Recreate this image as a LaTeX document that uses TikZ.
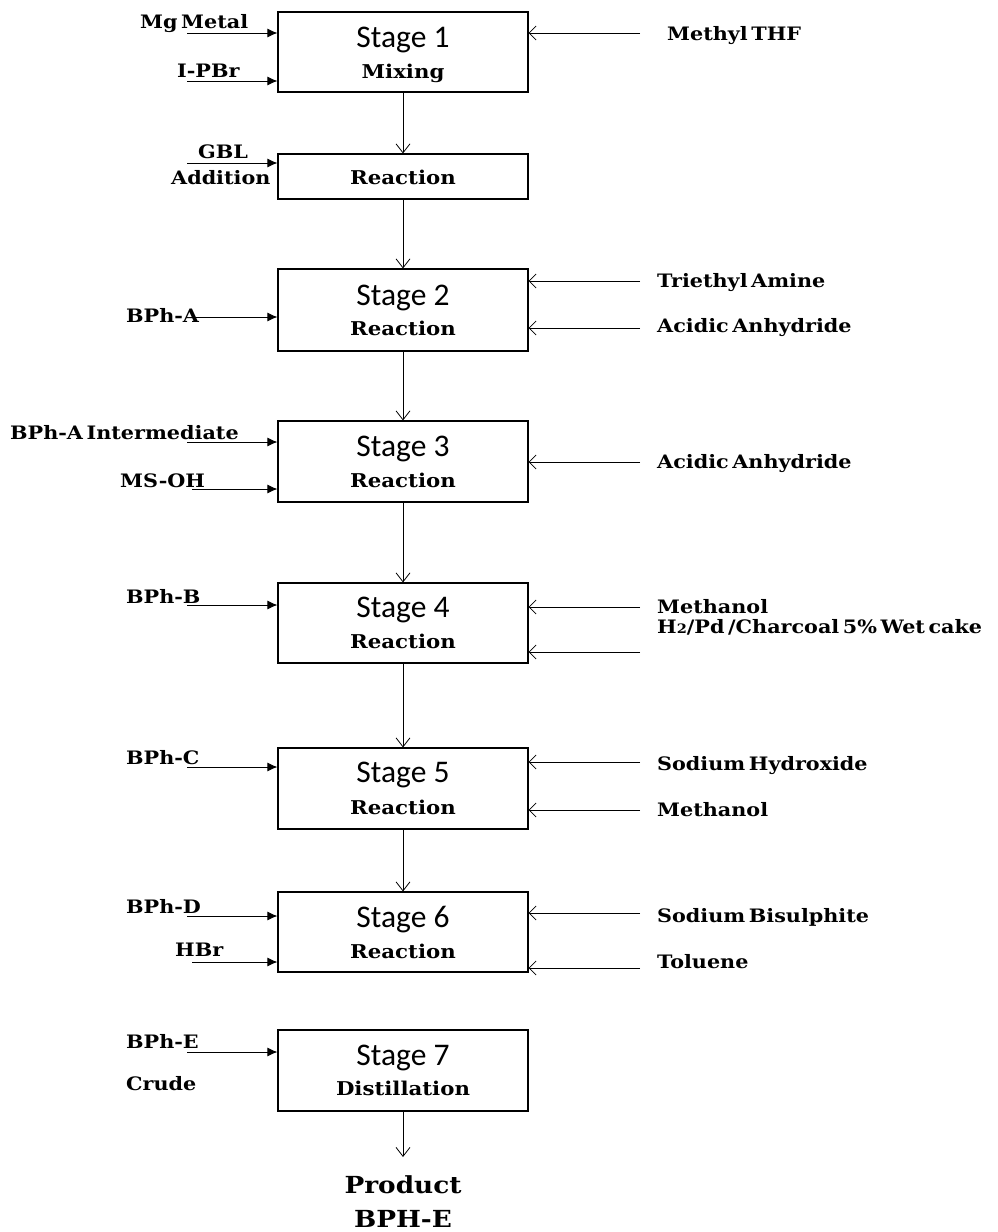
\documentclass[tikz,border=0pt]{standalone}
\usepackage{fontspec}
\setmainfont{DejaVu Serif}[FakeStretch=1.12, WordSpace=0.5]
\newfontfamily\stagefont{Carlito}
\usetikzlibrary{arrows.meta}
\begin{document}
\begin{tikzpicture}[x=1pt,y=-1pt,
  box/.style={draw, line width=1.1pt, minimum width=250pt, inner sep=0pt},
  lbl/.style={font=\bfseries\fontsize{18.5}{18.5}\selectfont, inner sep=0pt, anchor=base west},
  stg/.style={font=\stagefont\fontsize{31.5}{31.5}\selectfont, inner sep=0pt, anchor=base},
  sub/.style={font=\bfseries\fontsize{19}{19}\selectfont, inner sep=0pt, anchor=base},
  prodlbl/.style={font=\bfseries\fontsize{23.5}{23.5}\selectfont, inner sep=0pt, anchor=base},
  feed/.style={-{Latex[length=10pt,width=9pt]}, line width=1pt},
  side/.style={-{Straight Barb[length=7pt,width=14pt]}, line width=0.8pt},
  flow/.style={-{Straight Barb[length=9pt,width=14pt]}, line width=0.8pt}]
\useasboundingbox (0,0) rectangle (997,1232);

% boxes
\node[box, minimum height=80pt] (s1) at (403,52) {};
\node[stg] (s1a) at (403,47) {Stage 1};
\node[sub] (s1b) at (403,78) {Mixing};

\node[box, minimum height=45pt] (r) at (403,176.5) {};
\node[sub] (rb) at (403,184) {Reaction};

\node[box, minimum height=82pt] (s2) at (403,310) {};
\node[stg] (s2a) at (403,305) {Stage 2};
\node[sub] (s2b) at (403,335) {Reaction};

\node[box, minimum height=81pt] (s3) at (403,461.5) {};
\node[stg] (s3a) at (403,456) {Stage 3};
\node[sub] (s3b) at (403,487) {Reaction};

\node[box, minimum height=80pt] (s4) at (403,623) {};
\node[stg] (s4a) at (403,617) {Stage 4};
\node[sub] (s4b) at (403,648) {Reaction};

\node[box, minimum height=81pt] (s5) at (403,788.5) {};
\node[stg] (s5a) at (403,782) {Stage 5};
\node[sub] (s5b) at (403,814) {Reaction};

\node[box, minimum height=80pt] (s6) at (403,932) {};
\node[stg] (s6a) at (403,927) {Stage 6};
\node[sub] (s6b) at (403,958) {Reaction};

\node[box, minimum height=81pt] (s7) at (403,1070.5) {};
\node[stg] (s7a) at (403,1065) {Stage 7};
\node[sub] (s7b) at (403,1095) {Distillation};

\node[prodlbl] (p1) at (403,1193) {Product};
\node[prodlbl] (p2) at (403,1227) {BPH-E};
\coordinate (pend) at (403,1157);

% vertical flow
\draw[flow] (s1.south) -- (r.north);
\draw[flow] (r.south) -- (s2.north);
\draw[flow] (s2.south) -- (s3.north);
\draw[flow] (s3.south) -- (s4.north);
\draw[flow] (s4.south) -- (s5.north);
\draw[flow] (s5.south) -- (s6.north);
\draw[flow] (s7.south) -- (pend);

% left feeds
\coordinate (l1) at (187,33);   \draw[feed] (l1) -- (l1 -| s1.west);
\coordinate (l2) at (187,81);   \draw[feed] (l2) -- (l2 -| s1.west);
\coordinate (l3) at (187,163);  \draw[feed] (l3) -- (l3 -| r.west);
\coordinate (l4) at (193,317);  \draw[feed] (l4) -- (l4 -| s2.west);
\coordinate (l5) at (187,442);  \draw[feed] (l5) -- (l5 -| s3.west);
\coordinate (l6) at (192,489);  \draw[feed] (l6) -- (l6 -| s3.west);
\coordinate (l7) at (187,605);  \draw[feed] (l7) -- (l7 -| s4.west);
\coordinate (l8) at (187,767);  \draw[feed] (l8) -- (l8 -| s5.west);
\coordinate (l9) at (187,916);  \draw[feed] (l9) -- (l9 -| s6.west);
\coordinate (l10) at (192,962); \draw[feed] (l10) -- (l10 -| s6.west);
\coordinate (l11) at (187,1052);\draw[feed] (l11) -- (l11 -| s7.west);

% right feeds
\coordinate (q1) at (640,33);   \draw[side] (q1) -- (q1 -| s1.east);
\coordinate (q2) at (640,281);  \draw[side] (q2) -- (q2 -| s2.east);
\coordinate (q3) at (640,328);  \draw[side] (q3) -- (q3 -| s2.east);
\coordinate (q4) at (640,462);  \draw[side] (q4) -- (q4 -| s3.east);
\coordinate (q5) at (640,607);  \draw[side] (q5) -- (q5 -| s4.east);
\coordinate (q6) at (640,652);  \draw[side] (q6) -- (q6 -| s4.east);
\coordinate (q7) at (640,762);  \draw[side] (q7) -- (q7 -| s5.east);
\coordinate (q8) at (640,810);  \draw[side] (q8) -- (q8 -| s5.east);
\coordinate (q9) at (640,913);  \draw[side] (q9) -- (q9 -| s6.east);
\coordinate (q10) at (640,968); \draw[side] (q10) -- (q10 -| s6.east);

% left labels
\node[lbl] (t1) at (140,28) {Mg Metal};
\node[lbl] (t2) at (177,77) {I-PBr};
\node[lbl] (t3) at (198,158) {GBL};
\node[lbl] (t4) at (171,184) {Addition};
\node[lbl] (t5) at (126,322) {BPh-A};
\node[lbl] (t6) at (10,439) {BPh-A Intermediate};
\node[lbl] (t7) at (120,487) {MS-OH};
\node[lbl] (t8) at (126,603) {BPh-B};
\node[lbl] (t9) at (126,764) {BPh-C};
\node[lbl] (t10) at (126,913) {BPh-D};
\node[lbl] (t11) at (175,956) {HBr};
\node[lbl] (t12) at (126,1048) {BPh-E};
\node[lbl] (t13) at (126,1090) {Crude};

% right labels
\node[lbl] (u1) at (667,40) {Methyl THF};
\node[lbl] (u2) at (657,287) {Triethyl Amine};
\node[lbl] (u3) at (657,332) {Acidic Anhydride};
\node[lbl] (u4) at (657,468) {Acidic Anhydride};
\node[lbl] (u5) at (657,613) {Methanol};
\node[lbl] (u6) at (657,633) {H{\fontsize{13}{13}\selectfont 2}/Pd /Charcoal 5\% Wet cake};
\node[lbl] (u7) at (657,770) {Sodium Hydroxide};
\node[lbl] (u8) at (657,816) {Methanol};
\node[lbl] (u9) at (657,922) {Sodium Bisulphite};
\node[lbl] (u10) at (657,968) {Toluene};
\end{tikzpicture}
\end{document}
